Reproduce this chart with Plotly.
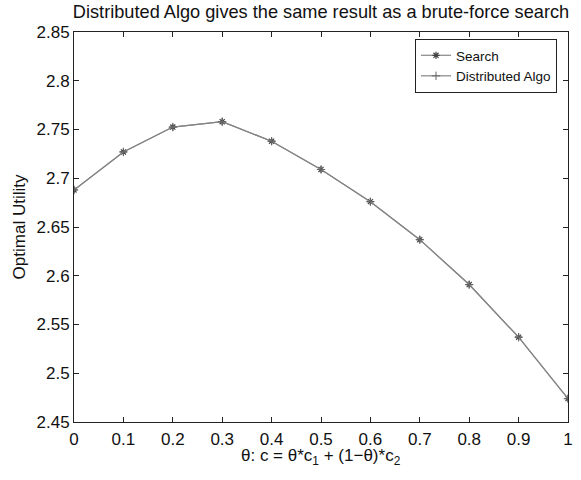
import plotly.graph_objects as go

theta = [0, 0.1, 0.2, 0.3, 0.4, 0.5, 0.6, 0.7, 0.8, 0.9, 1.0]
search = [2.688, 2.727, 2.7525, 2.758, 2.738, 2.709, 2.676, 2.637, 2.591, 2.537, 2.474]
distributed = [2.688, 2.727, 2.7525, 2.758, 2.738, 2.709, 2.676, 2.637, 2.591, 2.537, 2.474]

x_ticks = [0, 0.1, 0.2, 0.3, 0.4, 0.5, 0.6, 0.7, 0.8, 0.9, 1]
x_ticktext = ["0", "0.1", "0.2", "0.3", "0.4", "0.5", "0.6", "0.7", "0.8", "0.9", "1"]
y_ticks = [2.45, 2.5, 2.55, 2.6, 2.65, 2.7, 2.75, 2.8, 2.85]
y_ticktext = ["2.45", "2.5", "2.55", "2.6", "2.65", "2.7", "2.75", "2.8", "2.85"]

FONT = "Liberation Sans, Arial, sans-serif"

W, H = 581, 480
L, R, T, B = 74, 568, 32, 422  # plot area in page pixels

fig = go.Figure()
fig.add_trace(go.Scatter(
    x=theta, y=search, mode="lines+markers", name="Search",
    line=dict(color="#858585", width=1.2),
    marker=dict(symbol="asterisk-open", size=6, color="#444444",
                line=dict(color="#444444", width=1.2)),
))
fig.add_trace(go.Scatter(
    x=theta, y=distributed, mode="lines+markers", name="Distributed Algo",
    line=dict(color="#858585", width=1.2),
    marker=dict(symbol="cross-thin-open", size=6, color="#666666",
                line=dict(color="#666666", width=1)),
))

axis_common = dict(
    showgrid=False, zeroline=False, showline=True, linecolor="#222222", linewidth=1,
    mirror="ticks", ticks="inside", ticklen=5, tickcolor="#222222", tickwidth=1,
    tickfont=dict(family=FONT, size=17, color="#111111"),
    automargin=False,
)

fig.update_layout(
    width=W, height=H,
    paper_bgcolor="white", plot_bgcolor="white",
    margin=dict(l=L, r=W - R, t=T, b=H - B),
    font=dict(family=FONT, color="#111111"),
    title=dict(
        text="Distributed Algo gives the same result as a brute-force search",
        x=(L + R) / 2 / W, xanchor="center", y=1 - 12 / H, yanchor="middle",
        font=dict(family=FONT, size=18.2, color="#111111"),
        automargin=False,
    ),
    xaxis=dict(
        range=[0, 1], tickvals=x_ticks, ticktext=x_ticktext,
        ticklabelstandoff=2,
        **axis_common,
    ),
    yaxis=dict(
        range=[2.45, 2.85], tickvals=y_ticks, ticktext=y_ticktext,
        title=dict(text="Optimal Utility", font=dict(family=FONT, size=17), standoff=6),
        **axis_common,
    ),
    legend=dict(
        x=(557 - L) / (R - L), xanchor="right", y=1 - 7 / (B - T), yanchor="top",
        bgcolor="white", bordercolor="#222222", borderwidth=1,
        font=dict(family=FONT, size=13.5, color="#111111"),
        tracegroupgap=0,
    ),
    showlegend=True,
    annotations=[dict(
        text="θ: c = θ*c<sub>1</sub> + (1−θ)*c<sub>2</sub>",
        xref="paper", yref="paper", x=0.5, y=0, xanchor="center", yanchor="top",
        yshift=-22, showarrow=False,
        font=dict(family=FONT, size=17, color="#111111"),
    )],
)

fig.write_html(
    "out.html",
    config={"displayModeBar": False},
    post_script="document.body.style.margin='0px';document.body.style.padding='0px';",
)
